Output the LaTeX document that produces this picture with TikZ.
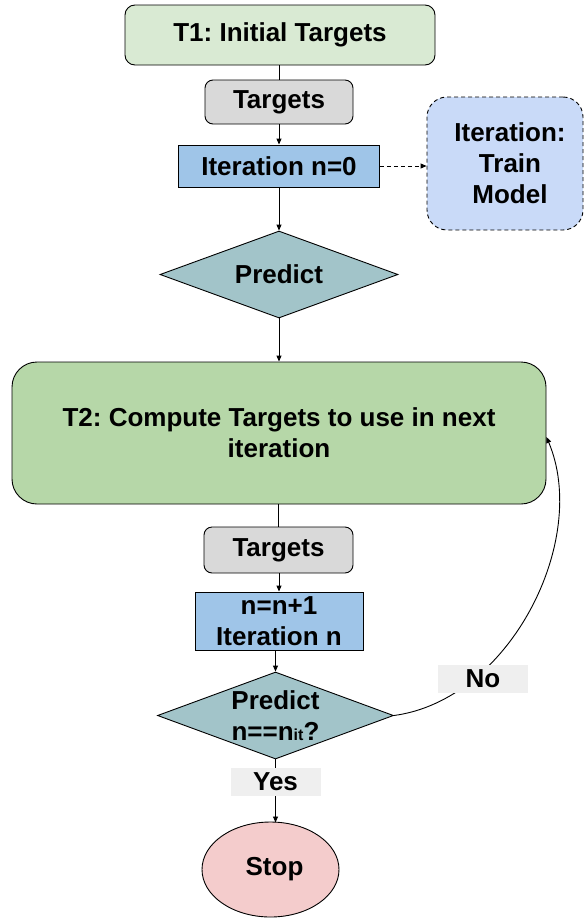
\documentclass[tikz,border=0pt]{standalone}
\usepackage{fontspec}
\setmainfont{Liberation Sans}
\usetikzlibrary{shapes.geometric,arrows.meta}
\definecolor{cTone}{HTML}{D9EAD3}
\definecolor{cGray}{HTML}{D9D9D9}
\definecolor{cBlue}{HTML}{9FC5E8}
\definecolor{cLBlue}{HTML}{C9DAF8}
\definecolor{cTeal}{HTML}{A2C4C9}
\definecolor{cTtwo}{HTML}{B6D7A8}
\definecolor{cPink}{HTML}{F4CCCC}
\definecolor{cLab}{HTML}{EFEFEF}
\tikzset{
  txt/.style={align=center, inner sep=0pt, text=black,
    font=\frenchspacing\bfseries\fontsize{26}{31}\selectfont},
  base/.style={txt, draw=black, line width=0.9pt},
  termbox/.style={base, rectangle, rounded corners=10pt, fill=cTone},
  tgtbox/.style={base, rectangle, rounded corners=8pt, fill=cGray},
  iterbox/.style={base, rectangle, fill=cBlue},
  trainbox/.style={base, rectangle, rounded corners=20pt, fill=cLBlue, dash pattern=on 4pt off 3pt},
  decbox/.style={base, diamond, fill=cTeal},
  bigbox/.style={base, rectangle, rounded corners=25pt, fill=cTtwo},
  stopbox/.style={base, ellipse, fill=cPink},
  lab/.style={txt, rectangle, fill=cLab, minimum width=90pt, minimum height=28pt},
  conn/.style={line width=0.9pt, draw=black},
  arr/.style={conn, -{Triangle[length=6pt,width=5pt]}}
}
\begin{document}
\begin{tikzpicture}[x=1pt,y=-1pt]
\useasboundingbox (0,0) rectangle (584,918);
\node[termbox, minimum width=310pt, minimum height=60pt] (t1) at (280,35) {\raisebox{-3pt}{T1: Initial Targets}};
\node[tgtbox, minimum width=148pt, minimum height=44pt] (tg1) at (279,102) {\raisebox{-3pt}{Targets}};
\node[iterbox, minimum width=201pt, minimum height=42pt] (it0) at (279,166) {Iteration n=0};
\node[trainbox, minimum width=156pt, minimum height=133pt] (train) at (505,163.5) {\hspace*{10pt}Iteration:\\\hspace*{10pt}Train\\\hspace*{10pt}Model};
\node[decbox, minimum width=238pt, minimum height=87pt] (p1) at (279,274.5) {};
\node[txt] (p1t) at (p1.center) {Predict};
\node[bigbox, minimum width=534pt, minimum height=142pt] (t2) at (279,433) {T2: Compute Targets to use in next\\iteration};
\node[tgtbox, minimum width=149pt, minimum height=46pt] (tg2) at (278.5,550) {\raisebox{-3pt}{Targets}};
\node[iterbox, minimum width=168pt, minimum height=58pt] (itn) at (279,621) {n=n+1\\Iteration n};
\node[decbox, minimum width=236pt, minimum height=87pt] (p2) at (275.5,715.5) {};
\node[txt] (p2t) at (p2.center) {Predict\\n==n{\fontsize{16}{16}\selectfont it}?};
\node[stopbox, minimum width=137pt, minimum height=95pt] (stop) at (270.5,869.5) {\hspace*{8pt}\raisebox{-4pt}{Stop}};
\coordinate (stoptop) at (275.5,822.5);

\draw[conn] (t1.south -| tg1.north) -- (tg1.north);
\draw[arr] (tg1.south -| it0.north) -- (it0.north);
\draw[arr, dash pattern=on 4pt off 3pt] (it0.east) -- (it0.east -| train.west);
\draw[arr] (it0.south) -- (p1.north);
\draw[arr] (p1.south) -- (p1.south |- t2.north);
\draw[conn] (t2.south -| tg2.north) -- (tg2.north);
\draw[arr] (tg2.south -| itn.north) -- (itn.north);
\draw[arr] (itn.south -| p2.north) -- (p2.north);
\draw[arr] (p2.south) -- node[lab, pos=0.36] (yes) {Yes} (stoptop);
\draw[arr] (p2.east) .. controls (510,700) and (590,540) .. ([yshift=-4pt]t2.east);
\node[lab] (no) at (483,679) {No};
\end{tikzpicture}
\end{document}
